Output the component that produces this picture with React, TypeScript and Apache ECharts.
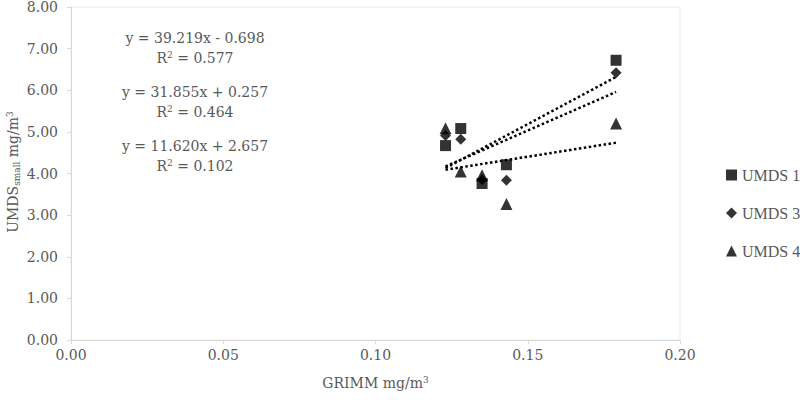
import React, { useEffect, useRef } from "react";
import * as echarts from "echarts";

const xValues = [0.123, 0.128, 0.135, 0.143, 0.179];
const umds1 = [4.67, 5.08, 3.76, 4.21, 6.72];
const umds3 = [4.91, 4.82, 3.85, 3.84, 6.42];
const umds4 = [5.09, 4.05, 3.96, 3.27, 5.2];

// trendline end points (x start/end, y start/end)
const trendX = [0.123, 0.179];
const trend1 = [4.13, 6.32];
const trend3 = [4.17, 5.96];
const trend4 = [4.09, 4.74];

const equations = [
  ["y = 39.219x - 0.698", "R{sup|2} = 0.577"],
  ["y = 31.855x + 0.257", "R{sup|2} = 0.464"],
  ["y = 11.620x + 2.657", "R{sup|2} = 0.102"],
];

const seriesNames = ["UMDS 1", "UMDS 3", "UMDS 4"];
const symbols = ["rect", "diamond", "triangle"];
const symbolSizes = [11, 11, 12];

const FONT = "DejaVu Serif";
const LEGEND_FONT = "Liberation Serif";
const GRAY = "#595959";
const FS = 14;

export default function App() {
  const ref = useRef<HTMLDivElement>(null);
  useEffect(() => {
    if (!ref.current) return;
    const chart = echarts.init(ref.current, undefined, { renderer: "svg" });
    const pts = (ys: number[]) => xValues.map((x, i) => [x, ys[i]]);
    const tr = (ys: number[]) => trendX.map((x, i) => [x, ys[i]]);
    const scatterData = [umds1, umds3, umds4];
    const trendData = [trend1, trend3, trend4];

    const supStyle = { fontSize: 9, fontFamily: FONT, fill: GRAY, padding: [0, 0, 7, 0] } as any;

    const graphics: any[] = [];
    equations.forEach((eq, i) => {
      graphics.push({
        type: "text",
        x: 195,
        y: 38 + i * 54,
        style: {
          text: eq[0],
          fill: GRAY,
          fontFamily: FONT,
          fontSize: FS,
          align: "center",
          verticalAlign: "middle",
        },
      });
      graphics.push({
        type: "text",
        x: 195,
        y: 58 + i * 54,
        style: {
          text: eq[1],
          fill: GRAY,
          fontFamily: FONT,
          fontSize: FS,
          align: "center",
          verticalAlign: "middle",
          rich: { sup: supStyle },
        },
      });
    });
    // y-axis title (rotated)
    graphics.push({
      type: "text",
      x: 13,
      y: 172,
      rotation: Math.PI / 2,
      style: {
        text: "{a|UMDS}{s|small}{a| mg/m}{sup|3}",
        fill: GRAY,
        fontFamily: FONT,
        fontSize: FS,
        align: "center",
        verticalAlign: "middle",
        rich: {
          a: { fontSize: FS, fontFamily: FONT, fill: GRAY } as any,
          s: { fontSize: 9, fontFamily: FONT, fill: GRAY, padding: [7, 0, 0, 0] } as any,
          sup: supStyle,
        },
      },
    });

    chart.setOption({
      animation: false,
      backgroundColor: "#ffffff",
      grid: {
        left: 71,
        right: 120,
        top: 6,
        bottom: 60,
        show: true,
        borderColor: "#efeedf",
        borderWidth: 1,
      },
      legend: {
        data: seriesNames,
        orient: "vertical",
        left: 721,
        top: 162,
        itemWidth: 11,
        itemHeight: 11,
        itemGap: 22,
        textStyle: { color: GRAY, fontSize: 16, fontFamily: LEGEND_FONT, lineHeight: 16 },
      },
      xAxis: {
        type: "value",
        min: 0,
        max: 0.2,
        interval: 0.05,
        name: "GRIMM mg/m{sup|3}",
        nameLocation: "middle",
        nameGap: 35,
        nameTextStyle: {
          color: GRAY,
          fontSize: FS,
          fontFamily: FONT,
          rich: { sup: { fontSize: 9, color: GRAY, fontFamily: FONT, padding: [0, 0, 7, 0] } },
        },
        axisLine: { lineStyle: { color: "#d9d9d9" } },
        axisTick: { show: true, length: 4, lineStyle: { color: "#d9d9d9" } },
        axisLabel: {
          color: GRAY,
          fontSize: FS,
          fontFamily: FONT,
          margin: 8,
          formatter: (v: number) => v.toFixed(2),
        },
        splitLine: { show: false },
      },
      yAxis: {
        type: "value",
        min: 0,
        max: 8,
        interval: 1,
        axisLine: { show: true, lineStyle: { color: "#d9d9d9" } },
        axisTick: { show: true, length: 4, lineStyle: { color: "#d9d9d9" } },
        axisLabel: {
          color: GRAY,
          fontSize: FS,
          fontFamily: FONT,
          margin: 13,
          formatter: (v: number) => v.toFixed(2),
        },
        splitLine: { show: false },
      },
      graphic: graphics,
      series: [
        ...seriesNames.map((name, i) => ({
          name,
          type: "scatter",
          symbol: symbols[i],
          symbolSize: symbolSizes[i],
          itemStyle: { color: "#000000" },
          data: pts(scatterData[i]),
          z: 3,
        })),
        ...trendData.map((t, i) => ({
          name: "trend" + i,
          type: "line",
          data: tr(t),
          showSymbol: false,
          symbol: "none",
          lineStyle: { color: "#000000", width: 2.5, type: [2.5, 2.5] },
          z: 2,
        })),
      ],
    });
    return () => chart.dispose();
  }, []);
  return <div ref={ref} style={{ width: 800, height: 400, position: "absolute", left: 0, top: 0 }} />;
}
